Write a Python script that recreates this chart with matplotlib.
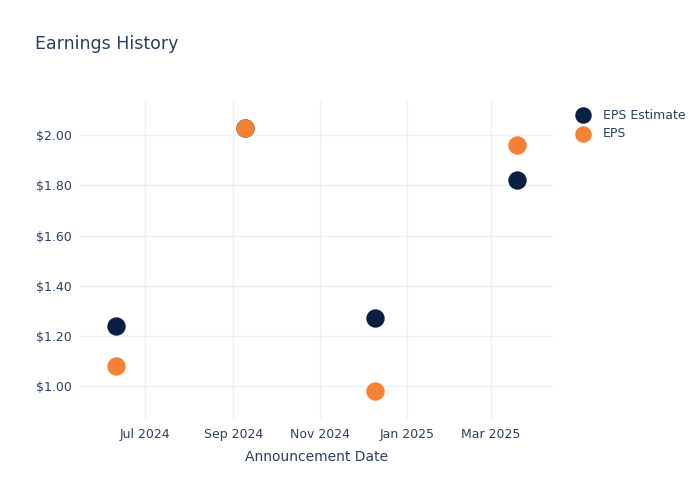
import matplotlib
matplotlib.use("Agg")
import matplotlib.pyplot as plt
import matplotlib.dates as mdates
import numpy as np
from datetime import datetime, timedelta

dates = ["2024-06-10", "2024-09-09", "2024-12-10", "2025-03-20"]
eps_estimate = [1.24, 2.03, 1.27, 1.82]
eps_actual = [1.08, 2.03, 0.98, 1.96]
y_ticks = [1.0, 1.2, 1.4, 1.6, 1.8, 2.0]
x_ticks = ["2024-07-01", "2024-09-01", "2024-11-01", "2025-01-01", "2025-03-01"]

txt = "#2a3f5f"
grid = "#ebf0f8"
navy = "#0b1f42"
orange = "#f58135"

d = [datetime.strptime(s, "%Y-%m-%d") for s in dates]
xt = [datetime.strptime(s, "%Y-%m-%d") for s in x_ticks]

fig = plt.figure(figsize=(7, 5), dpi=100)
ax = fig.add_axes([80/700, 1-420/500, (553-80)/700, (420-100)/500])

ax.scatter(d, eps_estimate, s=175, color=navy, zorder=3, label="EPS Estimate", linewidths=0)
ax.scatter(d, eps_actual, s=175, color=orange, zorder=4, label="EPS", linewidths=0)

ax.set_xlim(datetime(2024, 5, 16), datetime(2025, 4, 14))
ax.set_ylim(0.865, 2.14)
ax.set_yticks(y_ticks)
ax.set_yticklabels([f"${v:.2f}" for v in y_ticks])
ax.set_xticks(xt)
ax.xaxis.set_major_formatter(mdates.DateFormatter("%b %Y"))

for s in ax.spines.values():
    s.set_visible(False)
ax.grid(True, color=grid, linewidth=1)
ax.set_axisbelow(True)
ax.tick_params(length=0, colors=txt, labelsize=9, pad=6)
for lab in ax.get_xticklabels() + ax.get_yticklabels():
    lab.set_color(txt)

ax.set_xlabel("Announcement Date", color=txt, fontsize=10, labelpad=6.5)

fig.text(35/700, 1-44/500, "Earnings History", color=txt, fontsize=12.5, va="center", ha="left")

leg = ax.legend(loc="upper left", bbox_to_anchor=(1.019, 1.0), frameon=False,
                fontsize=9, labelcolor=txt, handletextpad=0.55, borderaxespad=0.3,
                labelspacing=0.45, markerscale=0.9)

fig.savefig("out.png", dpi=100)
